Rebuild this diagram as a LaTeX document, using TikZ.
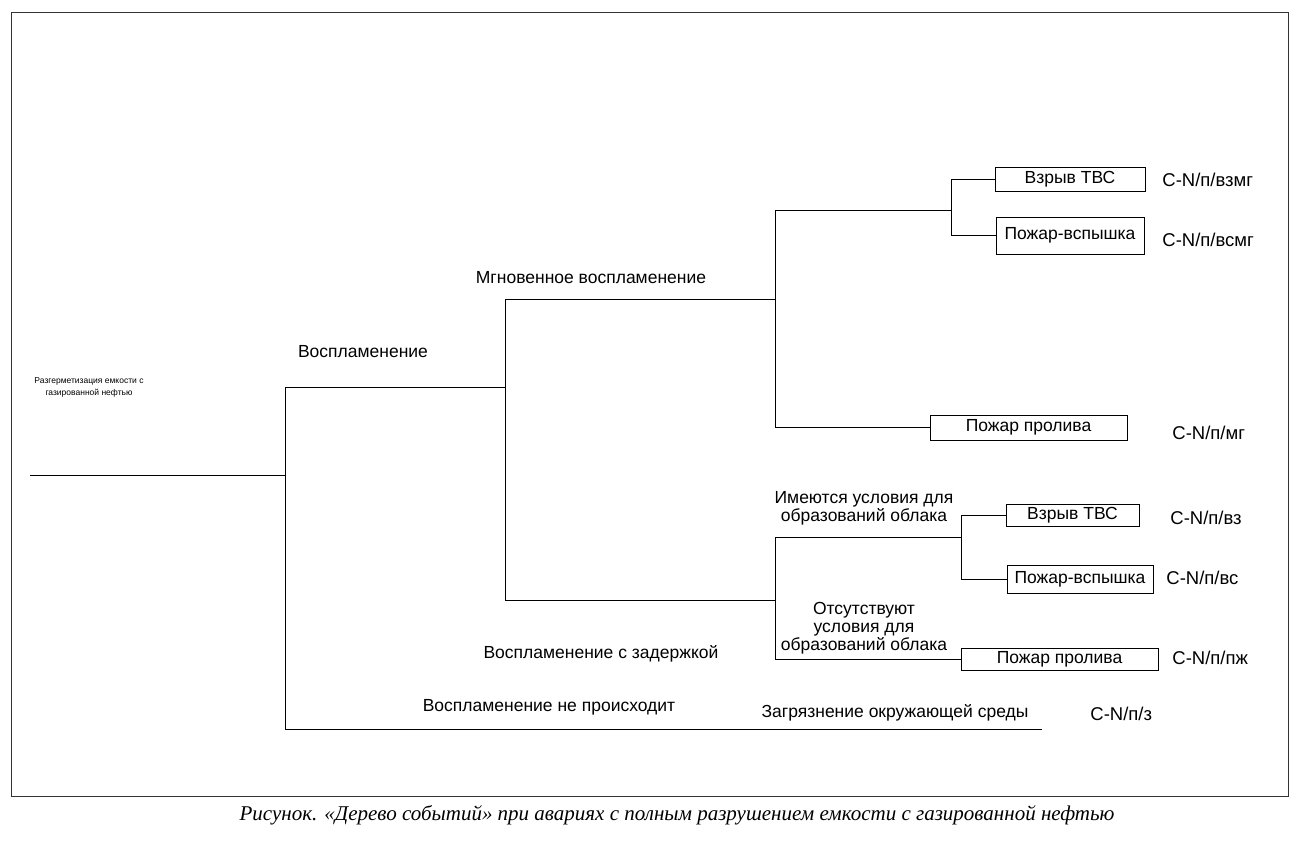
\documentclass[tikz,border=0pt]{standalone}
\usepackage{fontspec}
\setmainfont{Liberation Sans}
\newfontfamily\capfont{Liberation Serif}
\begin{document}
\begin{tikzpicture}[x=1pt,y=-1pt,line width=0.8pt,
    evbox/.style={draw,inner sep=0pt,font=\fontsize{17.5}{18}\selectfont},
    lbl/.style={inner sep=0pt,align=center,font=\fontsize{17.5}{18}\selectfont},
    code/.style={inner sep=0pt,anchor=west,font=\fontsize{18.5}{20}\selectfont}]
  \useasboundingbox (0,0) rectangle (1314,863);
  % Frame round the tree
  \draw[black!80] (11,12) rectangle (1288,796);

  % Junctions of the tree
  \coordinate (root) at (30,475);
  \coordinate (j1) at (285,475);
  \coordinate (j2) at (505,387);
  \coordinate (j3) at (775,299);
  \coordinate (j4) at (951,210);
  \coordinate (j5) at (775,600);
  \coordinate (j6) at (961,537);
  \coordinate (e7) at (1042,729);

  % Outcome boxes
  \node[evbox,minimum width=150,minimum height=24] (b1) at (1070,179) {Взрыв ТВС};
  \node[evbox,minimum width=148,minimum height=37] (b2) at (1070,235.5) {Пожар-вспышка};
  \node[evbox,minimum width=197,minimum height=25] (b3) at (1028.5,427.5) {Пожар пролива};
  \node[evbox,minimum width=133,minimum height=22] (b4) at (1072.5,515) {Взрыв ТВС};
  \node[evbox,minimum width=146,minimum height=28] (b5) at (1080,579) {Пожар-вспышка};
  \node[evbox,minimum width=197,minimum height=22] (b6) at (1059.5,659) {Пожар пролива};

  % Branches
  \draw (root) -- (j1);
  \draw (j1) |- (j2);
  \draw (j1) |- (e7);
  \draw (j2) |- (j3);
  \draw (j2) |- (j5);
  \draw (j3) |- (j4);
  \draw (j3) |- (b3.west);
  \draw (j4) |- (b1.west);
  \draw (j4) |- (b2.west);
  \draw (j5) |- (j6);
  \draw (j5) |- (b6.west);
  \draw (j6) |- (b4.west);
  \draw (j6) |- (b5.west);

  % Branch labels
  \node[lbl,font=\fontsize{8.5}{12}\selectfont] (t0) at (89,387) {Разгерметизация емкости с\\газированной нефтью};
  \node[lbl] (t1) at (363,352) {Воспламенение};
  \node[lbl] (t2) at (591,278) {Мгновенное воспламенение};
  \node[lbl] (t3) at (601,654) {Воспламенение с задержкой};
  \node[lbl] (t4) at (549,707) {Воспламенение не происходит};
  \node[lbl] (t5) at (864,508) {Имеются условия для\\образований облака};
  \node[lbl] (t6) at (864,628) {Отсутствуют\\условия для\\образований облака};
  \node[lbl] (t7) at (895,713) {Загрязнение окружающей среды};

  % Outcome codes
  \node[code] (c1) at (1162,180) {C-N/п/взмг};
  \node[code] (c2) at (1162,240) {C-N/п/всмг};
  \node[code] (c3) at (1172,433) {C-N/п/мг};
  \node[code] (c4) at (1170,518) {C-N/п/вз};
  \node[code] (c5) at (1166,578) {C-N/п/вс};
  \node[code] (c6) at (1172,658) {C-N/п/пж};
  \node[code] (c7) at (1090,714) {C-N/п/з};

  % Caption
  \node[inner sep=0pt,font=\capfont\itshape\fontsize{21}{24}\selectfont] (cap) at (677,815)
    {Рисунок. «Дерево событий» при авариях с полным разрушением емкости с газированной нефтью};
\end{tikzpicture}
\end{document}
